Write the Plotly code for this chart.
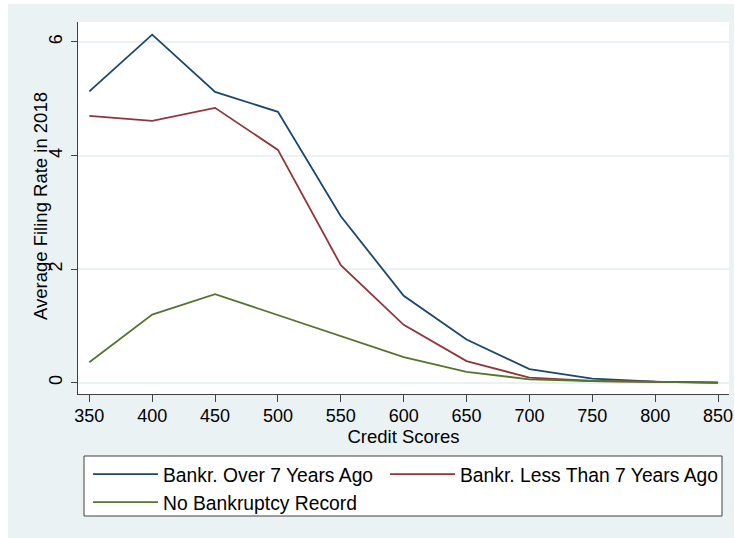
import plotly.graph_objects as go

# ---- data ----
credit_scores = [350, 400, 450, 500, 550, 600, 650, 700, 750, 800, 850]
bankr_over_7 = [5.13, 6.13, 5.12, 4.77, 2.93, 1.53, 0.76, 0.24, 0.07, 0.02, 0.0]
bankr_less_7 = [4.70, 4.61, 4.84, 4.10, 2.07, 1.02, 0.38, 0.09, 0.03, 0.01, 0.0]
no_bankr = [0.36, 1.20, 1.56, 1.19, 0.82, 0.45, 0.19, 0.06, 0.03, 0.01, 0.0]
series_names = ["Bankr. Over 7 Years Ago", "Bankr. Less Than 7 Years Ago", "No Bankruptcy Record"]
x_ticks = [350, 400, 450, 500, 550, 600, 650, 700, 750, 800, 850]
y_ticks = [0, 2, 4, 6]

# ---- layout constants (pixels) ----
W, H = 735, 538
L, R, T, B = 78, 729, 22, 394
PW, PH = R - L, B - T
BG = "#EAF2F3"
FONT = "Arial, Liberation Sans, Helvetica, sans-serif"


def px(xp):
    return (xp - L) / PW


def py(yp):
    return (B - yp) / PH


fig = go.Figure()
colors = ["#1a476f", "#90353b", "#55752f"]
values = [bankr_over_7, bankr_less_7, no_bankr]
legend_ids = ["legend", "legend2", "legend"]
for name, vals, col, lg in zip(series_names, values, colors, legend_ids):
    fig.add_trace(go.Scatter(x=credit_scores, y=vals, mode="lines", name=name,
                             line=dict(color=col, width=1.8), legend=lg))

shapes = [
    # white strips outside the Stata background
    dict(type="rect", xref="paper", yref="paper", x0=px(0), x1=px(8), y0=py(H), y1=py(0),
         fillcolor="white", line_width=0, layer="below"),
    dict(type="rect", xref="paper", yref="paper", x0=px(0), x1=px(W), y0=py(4), y1=py(0),
         fillcolor="white", line_width=0, layer="below"),
    dict(type="rect", xref="paper", yref="paper", x0=px(734), x1=px(W), y0=py(H), y1=py(0),
         fillcolor="white", line_width=0, layer="below"),
    # legend box
    dict(type="rect", xref="paper", yref="paper", x0=px(84), x1=px(722), y0=py(516), y1=py(456),
         fillcolor="white", line=dict(color="#404040", width=1), layer="above"),
]

annotations = [
    dict(text="Average Filing Rate in 2018", xref="paper", yref="paper",
         x=px(40), y=py(206), xanchor="center", yanchor="middle", textangle=-90,
         showarrow=False, font=dict(size=18.5, family=FONT, color="#000000")),
]

fig.update_layout(
    width=W, height=H,
    margin=dict(l=L, r=W - R, t=T, b=H - B, autoexpand=False),
    paper_bgcolor=BG, plot_bgcolor="white",
    font=dict(family=FONT, size=18, color="#000000"),
    shapes=shapes,
    annotations=annotations,
    showlegend=True,
    legend=dict(x=px(88), y=py(455), xanchor="left", yanchor="top",
                bgcolor="rgba(0,0,0,0)", borderwidth=0, itemwidth=65,
                font=dict(size=19.3), tracegroupgap=0, itemclick=False),
    legend2=dict(x=px(385), y=py(455), xanchor="left", yanchor="top",
                 bgcolor="rgba(0,0,0,0)", borderwidth=0, itemwidth=65,
                 font=dict(size=19.3), itemclick=False),
    xaxis=dict(range=[341.0, 858.7], tickvals=x_ticks, ticktext=[str(v) for v in x_ticks],
               showgrid=False, zeroline=False, showline=True, linecolor="#404040", linewidth=1,
               ticks="outside", ticklen=7, tickcolor="#404040", tickwidth=1,
               tickfont=dict(size=18), ticklabelstandoff=-2,
               title=dict(text="Credit Scores", font=dict(size=18.5), standoff=0)),
    yaxis=dict(range=[-0.199, 6.352], tickvals=y_ticks, ticktext=[str(v) for v in y_ticks],
               showgrid=True, gridcolor=BG, gridwidth=1.5, zeroline=False,
               showline=True, linecolor="#404040", linewidth=1,
               ticks="outside", ticklen=6, tickcolor="#404040", tickwidth=1,
               tickangle=-90, tickfont=dict(size=18), ticklabelstandoff=2),
)

fig.write_html("out.html")
